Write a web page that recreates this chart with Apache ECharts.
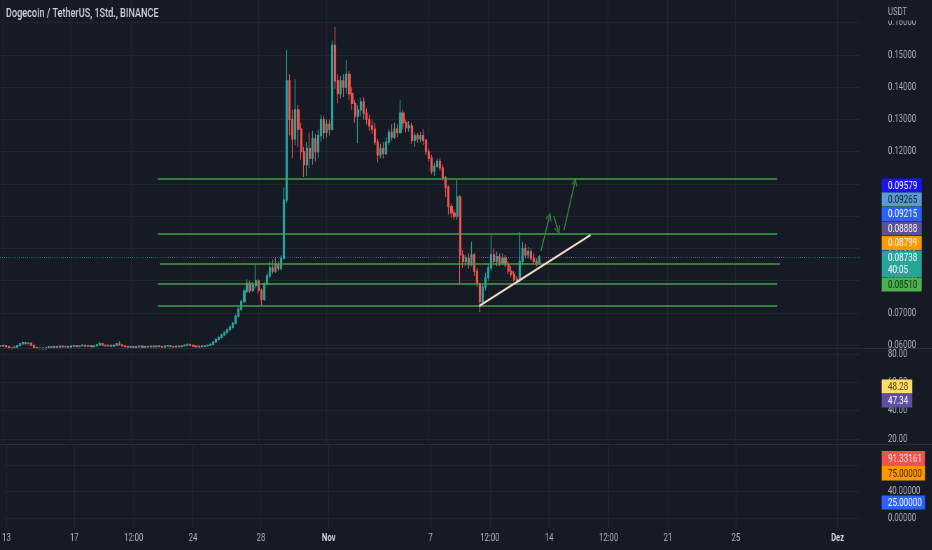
<!DOCTYPE html>
<html><head><meta charset="utf-8">
<script src="https://cdn.jsdelivr.net/npm/echarts@6/dist/echarts.min.js"></script>
<style>
html,body{margin:0;padding:0;background:#161a25;overflow:hidden;width:932px;height:550px}
#c{width:1331px;height:550px;transform:scaleX(0.7);transform-origin:0 0}
</style></head><body><div id="c"></div>
<script>
// ---- data (4-hour candles, hours counted from 13 Oct 00:00) ----
const startHour = -4, stepHours = 4;
const opens = [
.0598,.0597,.0599,.0596,.0592,.0590,.0594,.0599,.0604,.0608,
.0605,.0607,.0600,.0593,.0590,.0591,.0589,.0592,.0595,.0593,
.0596,.0594,.0597,.0595,.0596,.0594,.0597,.0599,.0596,.0598,
.0600,.0597,.0599,.0596,.0598,.0601,.0605,.0600,.0598,.0600,
.0597,.0600,.0604,.0601,.0598,.0596,.0594,.0596,.0593,.0595,
.0597,.0594,.0596,.0595,.0597,.0595,.0598,.0596,.0594,.0597,
.0599,.0596,.0595,.0597,.0596,.0598,.0600,.0603,.0600,.0597,
.0595,.0597,.0596,.0598,.0600,.0603,.0610,.0618,.0624,.0632,
.0640,.0648,.0656,.0668,.0690,.0712,.0735,.0768,.0792,.0770,
.0785,.0800,.0770,.0742,.0790,.0815,.0840,.0830,.0850,.0838,
.0870,.1050,.1420,.1300,.1240,.1330,.1270,.1200,.1160,.1210,
.1180,.1240,.1200,.1250,.1300,.1260,.1285,.1270,.1530,.1420,
.1380,.1420,.1400,.1440,.1380,.1350,.1310,.1330,.1355,.1320,
.1300,.1280,.1270,.1230,.1190,.1210,.1195,.1230,.1260,.1245,
.1270,.1260,.1320,.1290,.1275,.1280,.1235,.1250,.1240,.1250,
.1235,.1200,.1180,.1140,.1155,.1170,.1150,.1120,.1090,.1030,
.1010,.1000,.1060,.0880,.0860,.0870,.0850,.0880,.0830,.0790,
.0735,.0780,.0810,.0840,.0880,.0860,.0875,.0855,.0870,.0850,
.0830,.0820,.0805,.0800,.0860,.0900,.0880,.0890,.0870,.0860,
.0855];
const closes = [
.0597,.0599,.0596,.0592,.0590,.0594,.0599,.0604,.0608,.0605,
.0607,.0600,.0593,.0590,.0591,.0589,.0592,.0595,.0593,.0596,
.0594,.0597,.0595,.0596,.0594,.0597,.0599,.0596,.0598,.0600,
.0597,.0599,.0596,.0598,.0601,.0605,.0600,.0598,.0600,.0597,
.0600,.0604,.0601,.0598,.0596,.0594,.0596,.0593,.0595,.0597,
.0594,.0596,.0595,.0597,.0595,.0598,.0596,.0594,.0597,.0599,
.0596,.0595,.0597,.0596,.0598,.0600,.0603,.0600,.0597,.0595,
.0597,.0596,.0598,.0600,.0603,.0610,.0618,.0624,.0632,.0640,
.0648,.0656,.0668,.0690,.0712,.0735,.0768,.0792,.0770,.0785,
.0800,.0770,.0742,.0790,.0815,.0840,.0830,.0850,.0838,.0870,
.1050,.1420,.1300,.1240,.1330,.1270,.1200,.1160,.1210,.1180,
.1240,.1200,.1250,.1300,.1260,.1285,.1270,.1530,.1420,.1380,
.1420,.1400,.1440,.1380,.1350,.1310,.1330,.1355,.1320,.1300,
.1280,.1270,.1230,.1190,.1210,.1195,.1230,.1260,.1245,.1270,
.1260,.1320,.1290,.1275,.1280,.1235,.1250,.1240,.1250,.1235,
.1200,.1180,.1140,.1155,.1170,.1150,.1120,.1090,.1030,.1010,
.1000,.1060,.0880,.0860,.0870,.0850,.0880,.0830,.0790,.0735,
.0780,.0810,.0840,.0880,.0860,.0875,.0855,.0870,.0850,.0830,
.0820,.0805,.0800,.0860,.0900,.0880,.0890,.0870,.0860,.0855,
.08738];
const lows = [
.0594,.0595,.0594,.0589,.0587,.0589,.0593,.0597,.0602,.0603,
.0602,.0598,.0591,.0588,.0587,.0587,.0588,.0591,.0591,.0592,
.0592,.0593,.0593,.0593,.0592,.0593,.0595,.0594,.0594,.0596,
.0595,.0595,.0594,.0594,.0596,.0599,.0598,.0596,.0596,.0595,
.0596,.0598,.0599,.0596,.0594,.0592,.0592,.0591,.0591,.0593,
.0592,.0592,.0593,.0593,.0593,.0594,.0594,.0592,.0593,.0595,
.0594,.0593,.0593,.0594,.0594,.0596,.0598,.0598,.0595,.0593,
.0593,.0594,.0594,.0596,.0598,.0601,.0607,.0614,.0621,.0628,
.0636,.0644,.0652,.0665,.0686,.0708,.0730,.0762,.0762,.0765,
.0775,.0760,.0725,.0738,.0785,.0808,.0822,.0824,.0830,.0832,
.0865,.1040,.1250,.1180,.1220,.1215,.1175,.1122,.1125,.1150,
.1160,.1170,.1180,.1230,.1240,.1245,.1250,.1265,.1395,.1350,
.1365,.1370,.1380,.1360,.1330,.1290,.1227,.1310,.1300,.1285,
.1265,.1255,.1220,.1167,.1180,.1180,.1190,.1220,.1235,.1240,
.1245,.1255,.1270,.1260,.1262,.1225,.1215,.1228,.1230,.1220,
.1190,.1170,.1130,.1125,.1150,.1140,.1110,.1060,.1005,.0995,
.0990,.0990,.0790,.0840,.0845,.0838,.0845,.0815,.0780,.0703,
.0720,.0770,.0800,.0830,.0850,.0845,.0845,.0848,.0842,.0820,
.0810,.0798,.0793,.0795,.0850,.0870,.0870,.0862,.0850,.0845,
.0850];
const highs = [
.0601,.0603,.0600,.0597,.0594,.0596,.0601,.0606,.0611,.0610,
.0609,.0608,.0601,.0595,.0593,.0593,.0594,.0597,.0597,.0598,
.0598,.0599,.0598,.0598,.0598,.0600,.0601,.0601,.0600,.0603,
.0602,.0601,.0601,.0600,.0604,.0611,.0606,.0602,.0602,.0602,
.0603,.0607,.0613,.0603,.0600,.0598,.0598,.0597,.0597,.0599,
.0598,.0598,.0598,.0599,.0599,.0600,.0600,.0598,.0599,.0601,
.0601,.0598,.0599,.0599,.0600,.0603,.0606,.0605,.0602,.0599,
.0599,.0600,.0601,.0603,.0606,.0613,.0622,.0628,.0636,.0643,
.0652,.0661,.0672,.0695,.0718,.0742,.0775,.0805,.0800,.0796,
.0852,.0805,.0775,.0795,.0825,.0860,.0865,.0870,.0860,.0880,
.1090,.1516,.1440,.1330,.1425,.1345,.1290,.1215,.1230,.1260,
.1265,.1255,.1270,.1314,.1310,.1300,.1300,.1545,.1587,.1440,
.1435,.1440,.1485,.1450,.1400,.1360,.1345,.1368,.1369,.1335,
.1315,.1300,.1290,.1240,.1225,.1230,.1245,.1270,.1285,.1290,
.1285,.1360,.1330,.1300,.1295,.1290,.1260,.1258,.1262,.1270,
.1240,.1210,.1190,.1165,.1180,.1180,.1160,.1125,.1095,.1040,
.1020,.1113,.1065,.0895,.0880,.0885,.0921,.0885,.0840,.0795,
.0790,.0825,.0850,.0940,.0900,.0890,.0885,.0885,.0880,.0860,
.0845,.0830,.0815,.0950,.0920,.0915,.0905,.0900,.0885,.0870,
.0880];
const lastPrice = 0.08738;

const priceTicks = [0.06,0.07,0.08,0.09,0.10,0.11,0.12,0.13,0.14,0.15,0.16];
const rsiTicks = [20,40,60,80];
const oscTicks = [0,40,80];
const timeTicks = [0,96,180,264,360,456,600,684,768,852,936,1032,1176];
const timeTickLabels = ['13','17','12:00','24','28','Nov','7','12:00','14','12:00','21','25','Dez'];

// drawings (time in hours, price)
const levelPrices = [0.1115,0.0945,0.0854,0.0791,0.0723];
const levelFrom = [218,218,221,218,218];
const levelTo = [1091,1091,1095,1091,1091];
const trendFrom = [671,0.0722], trendTo = [828,0.0942];
const arrowFrom = [[758,0.0892],[776,0.1001],[790.5,0.0957]];
const arrowTo = [[770,0.0999],[782.5,0.0956],[806,0.1107]];

// right-scale tags
const tagTexts = ['0.09579','0.09265','0.09215','0.08888','0.08799','0.08738\n40:05','0.08510','48.28','47.34','91.33161','75.00000','25.00000'];
const tagColors = ['#1a12f2','#5b9bd0','#2962ff','#5d5190','#ff9800','#26a69a','#4caf50','#fddc6c','#5e4fa0','#ef5350','#ff9800','#2962ff'];
const tagTextColors = ['#fff','#0f1d2c','#fff','#fff','#fff','#fff','#113312','#5a3a00','#fff','#ffe5e5','#3a1f00','#fff'];
const tagTops = [178.5,192.5,207,221.5,236,250.5,277.5,379.5,393.5,451,466,495.5];
const tagHeights = [14,14,14,14,14,26.5,14,14,14,15,14.5,14];
const tagWidths = [40,40,40,40,40,40,40,30.6,30.6,43.3,43.3,43.3];

// ---- chart ----
const R = 1/0.7; // horizontal pre-scale factor
const BG = '#161a25', GRID = '#222632', TXT = '#b2b5be';
const candles = opens.map((o,i)=>[startHour+i*stepHours, o, closes[i], lows[i], highs[i]]);
const xMin = -4.228, xMax = 1207.7;
const plotW = 860*R;

function xAx(gi, showLabel){
  return {type:'value', gridIndex:gi, min:xMin, max:xMax,
    axisLine:{show:false}, axisTick:{show:false, customValues:timeTicks},
    splitLine:{show:true, lineStyle:{color:GRID, width:1.4}},
    axisLabel:{show:showLabel, customValues:timeTicks, margin:5, fontSize:11, fontFamily:'Roboto', color:TXT,
      formatter:v=>{const s=timeTickLabels[timeTicks.indexOf(v)]; return (s==='Nov'||s==='Dez')?'{m|'+s+'}':s;},
      rich:{m:{fontWeight:'bold', fontSize:11, fontFamily:'Roboto', color:'#d1d4dc'}}}};
}
function yAx(gi, min, max, ticks, dec){
  return {type:'value', gridIndex:gi, position:'right', min:min, max:max, scale:true,
    axisLine:{show:false}, axisTick:{show:false, customValues:ticks},
    splitLine:{show:true, lineStyle:{color:GRID, width:1}},
    axisLabel:{customValues:ticks, margin:40, align:'left', fontSize:11, fontFamily:'Roboto', color:TXT,
      formatter:v=>v.toFixed(dec)}};
}

const graphics = [];
graphics.push({type:'rect', z:100, shape:{x:0,y:348,width:1331,height:1}, style:{fill:'#2a2e39'}});
graphics.push({type:'rect', z:100, shape:{x:0,y:444,width:1331,height:1}, style:{fill:'#2a2e39'}});
graphics.push({type:'rect', z:100, shape:{x:870*R,y:0,width:62*R,height:20.5}, style:{fill:BG}});
graphics.push({type:'text', z:101, x:888*R, y:12.5, style:{text:'USDT', fill:TXT, font:'11px Roboto', align:'left', verticalAlign:'middle', textAlign:'left', textVerticalAlign:'middle'}});
graphics.push({type:'text', z:101, x:6*R, y:14, style:{text:'Dogecoin / TetherUS, 1Std., BINANCE', fill:'#d1d4dc', font:'500 13px Roboto', align:'left', verticalAlign:'middle', textAlign:'left', textVerticalAlign:'middle'}});
tagTexts.forEach((t,i)=>{
  graphics.push({type:'rect', z:102, shape:{x:881.7*R, y:tagTops[i], width:tagWidths[i]*R, height:tagHeights[i]}, style:{fill:tagColors[i]}});
  graphics.push({type:'text', z:103, x:888*R, y:tagTops[i]+tagHeights[i]/2+0.5, style:{text:t, fill:tagTextColors[i], font:'11.5px Roboto', lineHeight:12.5, align:'left', verticalAlign:'middle', textAlign:'left', textVerticalAlign:'middle'}});
});

const chart = echarts.init(document.getElementById('c'), null, {renderer:'canvas'});
chart.setOption({
  backgroundColor: BG,
  animation:false,
  grid:[
    {left:0, top:0, width:plotW, height:348},
    {left:0, top:349, width:plotW, height:94},
    {left:0, top:445, width:plotW, height:83}
  ],
  xAxis:[xAx(0,false), xAx(1,false), xAx(2,true)],
  yAxis:[
    yAx(0, 0.059147, 0.167054, priceTicks, 5),
    yAx(1, 17.2, 83.53, rsiTicks, 2),
    yAx(2, -14.6, 110.2, oscTicks, 5)
  ],
  series:[
    {type:'candlestick', xAxisIndex:0, yAxisIndex:0, data:candles, encode:{x:0, y:[1,2,3,4]},
      barWidth:2.6, z:3,
      itemStyle:{color:'#26a69a', color0:'#ef5350', borderColor:'#26a69a', borderColor0:'#ef5350', borderWidth:1.2}},
    {type:'line', xAxisIndex:0, yAxisIndex:0, data:[], z:4, silent:true,
      markLine:{silent:true, symbol:'none', animation:false, precision:6, label:{show:false},
        data:[[{coord:[xMin,lastPrice], lineStyle:{color:'#26a69a', type:[1,2], width:1, opacity:0.8}},{coord:[xMax,lastPrice]}]]}},
    {type:'line', xAxisIndex:0, yAxisIndex:0, data:[], z:5, silent:true,
      markLine:{silent:true, symbol:'none', animation:false, precision:6, label:{show:false},
        lineStyle:{color:'#43a047', width:1.5, type:'solid'},
        data: levelPrices.map((p,i)=>[{coord:[levelFrom[i],p]},{coord:[levelTo[i],p]}])
          .concat([[{coord:trendFrom, lineStyle:{color:'#f2d9c6', width:2.2}},{coord:trendTo}]])}},
    {type:'line', xAxisIndex:0, yAxisIndex:0, data:[], z:6, silent:true,
      markLine:{silent:true, animation:false, precision:6, label:{show:false},
        symbol:['none','path://M0,10 L5,0 L10,10 L8.5,10 L5,3 L1.5,10 Z'], symbolSize:[9,8],
        lineStyle:{color:'#3a8d3f', width:1.5, type:'solid'},
        data: arrowFrom.map((a,i)=>[{coord:a},{coord:arrowTo[i]}])}}
  ],
  graphic: graphics
});
</script></body></html>
